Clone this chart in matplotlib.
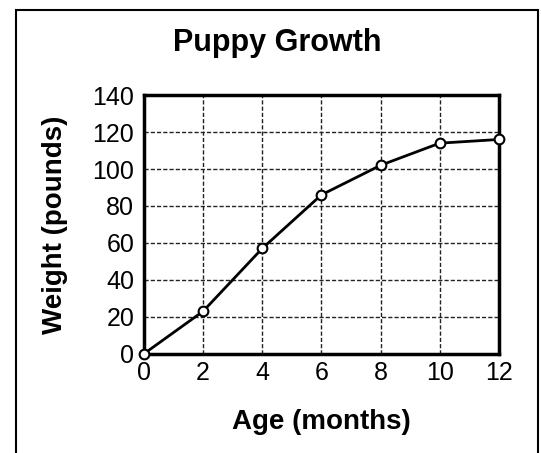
import matplotlib
matplotlib.use("Agg")
import matplotlib.pyplot as plt
from matplotlib.patches import Rectangle

# Puppy growth data
age_months = [0, 2, 4, 6, 8, 10, 12]
weight_lb = [0, 23, 57, 86, 102, 114, 116]
x_ticks = [0, 2, 4, 6, 8, 10, 12]
y_ticks = [0, 20, 40, 60, 80, 100, 120, 140]

plt.rcParams['font.family'] = ['Liberation Sans', 'DejaVu Sans']

fig = plt.figure(figsize=(5.41, 4.53), dpi=100)
ax = fig.add_axes([0.266, 0.219, 0.656, 0.571])

ax.plot(age_months, weight_lb, color='black', linewidth=2, marker='o',
        markersize=7, markerfacecolor='white', markeredgecolor='black',
        markeredgewidth=1.5, clip_on=False, zorder=3)

ax.set_xlim(0, 12)
ax.set_ylim(0, 140)
ax.set_xticks(x_ticks)
ax.set_yticks(y_ticks)
ax.tick_params(labelsize=18, length=0)
ax.tick_params(axis='y', pad=7)
ax.tick_params(axis='x', pad=5)
ax.grid(True, color='#222222', linestyle=(0, (3, 1.5)), linewidth=1.0)
for s in ax.spines.values():
    s.set_linewidth(2.5)

ax.set_xlabel('Age (months)', fontsize=20, fontweight='bold', va='center')
ax.xaxis.set_label_coords(0.5, -0.263)
ax.set_ylabel('Weight (pounds)', fontsize=20, fontweight='bold', va='center')
ax.yaxis.set_label_coords(-0.251, 0.5)
fig.text(0.512, 0.905, 'Puppy Growth', ha='center', va='center',
         fontsize=22, fontweight='bold')

# outer frame around the figure
fig.patches.append(Rectangle((0.029, -0.05), 0.965, 1.028, transform=fig.transFigure,
                             fill=False, edgecolor='black', linewidth=1.5))

fig.savefig('out.png', dpi=100)
